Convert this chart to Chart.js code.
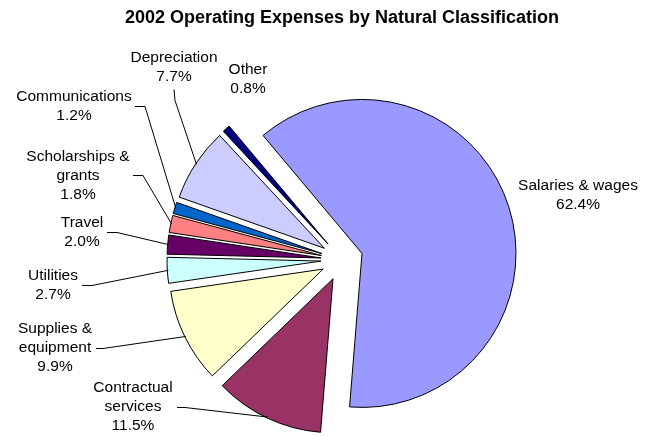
<!DOCTYPE html>
<html>
<head>
<meta charset="utf-8">
<script src="https://cdn.jsdelivr.net/npm/chart.js@4"></script>
<style>
  html, body { margin: 0; padding: 0; background: #fff; }
  #wrap { position: relative; width: 656px; height: 437px; }
</style>
</head>
<body>
<div id="wrap"><canvas id="c"></canvas></div>
<script>
// ---- data ----
const chartTitle = '2002 Operating Expenses by Natural Classification';
const categories = [
  ['Salaries & wages'],
  ['Contractual', 'services'],
  ['Supplies &', 'equipment'],
  ['Utilities'],
  ['Travel'],
  ['Scholarships &', 'grants'],
  ['Communications'],
  ['Depreciation'],
  ['Other']
];
const values = [62.4, 11.5, 9.9, 2.7, 2.0, 1.8, 1.2, 7.7, 0.8];
const colors = ['#9999FF', '#993366', '#FFFFCC', '#CCFFFF', '#660066', '#FF8080', '#0066CC', '#CCCCFF', '#000080'];

// ---- layout (label placement, not data) ----
const labelLayout = [
  { x: 578, y: 186 },
  { x: 133, y: 388, from: [177, 407], elbow: [185, 407] },
  { x: 55,  y: 329, from: [96, 348],  elbow: [103, 348] },
  { x: 53,  y: 276, from: [82, 285],  elbow: [92, 285] },
  { x: 82,  y: 223, from: [107, 232], elbow: [117, 232] },
  { x: 78,  y: 157, from: [133, 175], elbow: [143, 175] },
  { x: 74,  y: 97,  from: [135, 106], elbow: [145, 106] },
  { x: 174, y: 58,  from: [174, 89],  elbow: [175, 100] },
  { x: 248, y: 70 }
];
const EXPLODE = 21;
const FONT = "'Liberation Sans', Arial, sans-serif";

const explodePlugin = {
  id: 'explode',
  afterDatasetsUpdate(chart) {
    const meta = chart.getDatasetMeta(0);
    meta.data.forEach(arc => {
      const mid = (arc.startAngle + arc.endAngle) / 2;
      arc.x += Math.cos(mid) * EXPLODE;
      arc.y += Math.sin(mid) * EXPLODE;
    });
  }
};

const labelPlugin = {
  id: 'pieLabels',
  afterDatasetsDraw(chart) {
    const ctx = chart.ctx;
    const meta = chart.getDatasetMeta(0);
    ctx.save();
    ctx.strokeStyle = '#000';
    ctx.lineWidth = 1;
    meta.data.forEach((arc, i) => {
      const L = labelLayout[i];
      if (L.from) {
        const mid = (arc.startAngle + arc.endAngle) / 2;
        const ex = arc.x + Math.cos(mid) * (arc.outerRadius - 1);
        const ey = arc.y + Math.sin(mid) * (arc.outerRadius - 1);
        ctx.beginPath();
        ctx.moveTo(L.from[0], L.from[1] + 0.5);
        ctx.lineTo(L.elbow[0], L.elbow[1] + 0.5);
        ctx.lineTo(ex, ey);
        ctx.stroke();
      }
      const lines = categories[i].concat([values[i].toFixed(1) + '%']);
      ctx.fillStyle = '#000';
      ctx.font = '15.5px ' + FONT;
      ctx.textAlign = 'center';
      ctx.textBaseline = 'middle';
      lines.forEach((t, j) => ctx.fillText(t, L.x, L.y + j * 18.7));
    });
    ctx.restore();
  }
};

new Chart(document.getElementById('c'), {
  type: 'pie',
  data: {
    labels: categories,
    datasets: [{
      data: values,
      backgroundColor: colors,
      borderColor: '#000',
      borderWidth: 1,
      radius: 154
    }]
  },
  options: {
    responsive: true,
    maintainAspectRatio: false,
    animation: false,
    events: [],
    rotation: -40,
    layout: { padding: { left: 28, right: 0, top: 0, bottom: 0 } },
    plugins: {
      legend: { display: false },
      tooltip: { enabled: false },
      title: {
        display: true,
        text: chartTitle,
        color: '#000',
        font: { family: FONT, size: 18, weight: 'bold' },
        padding: { top: 7, bottom: 54 }
      }
    }
  },
  plugins: [explodePlugin, labelPlugin]
});
</script>
</body>
</html>
